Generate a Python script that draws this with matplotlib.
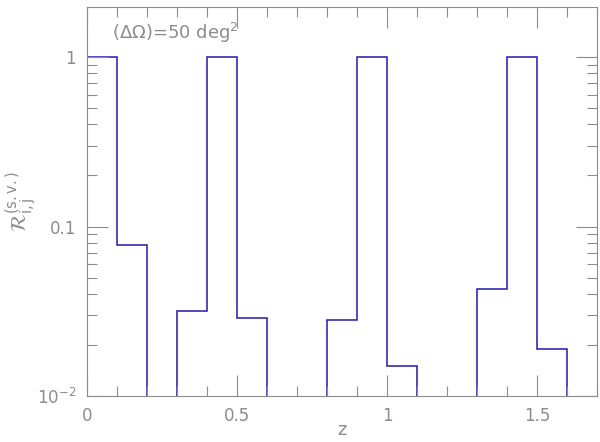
import numpy as np
import matplotlib.pyplot as plt
from matplotlib.ticker import FixedLocator, LogLocator, NullFormatter

# bin edges and heights of the four redshift groups
edges = [[0.0, 0.1, 0.2],
         [0.3, 0.4, 0.5, 0.6],
         [0.8, 0.9, 1.0, 1.1],
         [1.3, 1.4, 1.5, 1.6]]
values = [[1.0, 0.078],
          [0.0316, 1.0, 0.0288],
          [0.028, 1.0, 0.015],
          [0.0429, 1.0, 0.0189]]

xticks = [0, 0.5, 1, 1.5]
xticklabels = ['0', '0.5', '1', '1.5']
yticks = [0.01, 0.1, 1]
yticklabels = [r'10$^{-2}$', '0.1', '1']

gray = '#8c8c8c'
fig = plt.figure(figsize=(6, 4.42), dpi=100)
ax = fig.add_axes([0.145, 0.104, 0.85, 0.88])

ymin = 0.01
for e, v in zip(edges, values):
    ax.stairs(v, e, baseline=ymin, color='#2418a8', lw=1.1)

ax.set_yscale('log')
ax.set_xlim(0, 1.7)
ax.set_ylim(ymin, 1.97)

ax.xaxis.set_major_locator(FixedLocator(xticks))
ax.set_xticklabels(xticklabels)
ax.xaxis.set_minor_locator(FixedLocator(np.arange(0, 1.71, 0.1)))
ax.yaxis.set_major_locator(FixedLocator(yticks))
ax.set_yticklabels(yticklabels)
ax.yaxis.set_minor_locator(LogLocator(base=10, subs=np.arange(2, 10)))
ax.yaxis.set_minor_formatter(NullFormatter())

ax.tick_params(which='both', direction='in', top=True, right=True, colors=gray,
               labelcolor=gray, labelsize=12, width=0.8)
ax.tick_params(which='major', length=15, pad=8)
ax.tick_params(which='minor', length=7)
for s in ax.spines.values():
    s.set_color(gray)
    s.set_linewidth(0.8)

ax.set_xlabel('z', color=gray, fontsize=13, labelpad=-3)
ax.set_ylabel(r'$\mathcal{R}_{\rm i,j}^{\rm (s.v.)}$', color=gray, fontsize=15, labelpad=-2)
ax.text(0.05, 0.965, r'($\Delta\Omega$)=50 deg$^2$', transform=ax.transAxes,
        color=gray, fontsize=13, va='top', ha='left')

fig.savefig('out.png', dpi=100)
